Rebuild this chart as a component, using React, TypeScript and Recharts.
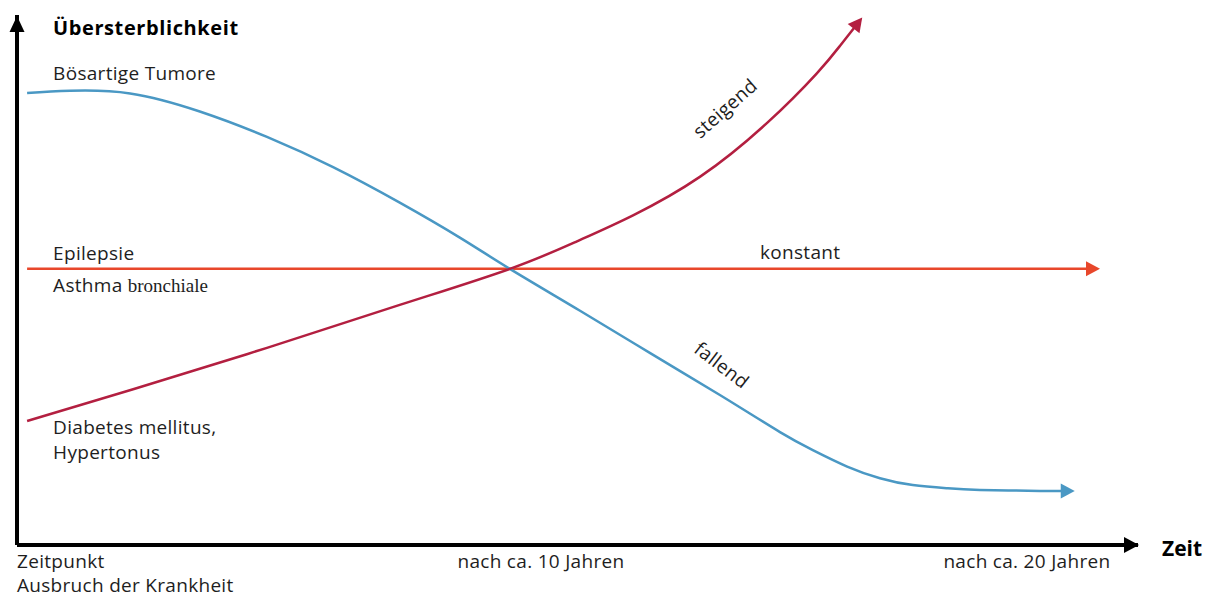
import React from "react";
import { LineChart, Line, XAxis, YAxis, ReferenceDot, Label } from "recharts";

const FONT = "'Open Sans', 'Noto Sans', sans-serif";
const SERIF = "'Liberation Serif', 'DejaVu Serif', serif";
const TEXT = "#1e1e1e";
const FONT_SIZE = 19;
const SPACING = 0.3;

// t = Jahre seit Ausbruch, v = Übersterblichkeit (relative Skala 0..100)
const fallend = [
  { t: 0.2, v: 85.3 },
  { t: 1.05, v: 85.7 },
  { t: 2.24, v: 85.2 },
  { t: 3.62, v: 81.8 },
  { t: 4.95, v: 77.0 },
  { t: 6.26, v: 71.3 },
  { t: 7.58, v: 64.6 },
  { t: 8.77, v: 58.0 },
  { t: 9.76, v: 52.1 },
  { t: 11.15, v: 44.2 },
  { t: 12.54, v: 36.2 },
  { t: 13.92, v: 28.3 },
  { t: 15.11, v: 21.3 },
  { t: 15.76, v: 17.9 },
  { t: 16.44, v: 14.8 },
  { t: 17.09, v: 12.6 },
  { t: 17.74, v: 11.3 },
  { t: 18.42, v: 10.7 },
  { t: 19.07, v: 10.4 },
  { t: 20.26, v: 10.2 },
  { t: 20.69, v: 10.2 },
];

const steigend = [
  { t: 0.2, v: 23.4 },
  { t: 2.3, v: 29.4 },
  { t: 4.95, v: 37.2 },
  { t: 7.58, v: 45.3 },
  { t: 9.76, v: 52.1 },
  { t: 11.09, v: 57.3 },
  { t: 12.2, v: 62.2 },
  { t: 13.53, v: 69.5 },
  { t: 14.85, v: 79.6 },
  { t: 15.84, v: 89.0 },
  { t: 16.3, v: 94.2 },
  { t: 16.58, v: 97.6 },
];

const konstant = [
  { t: 0.2, v: 52.1 },
  { t: 15.51, v: 52.1 },
  { t: 21.19, v: 52.1 },
];

const TIME_DOMAIN = [0, 22.2];
const RATE_DOMAIN = [0, 100];
const TIME_TICKS = [0, 10, 20];
const TIME_TICK_LABELS: Record<number, string[]> = {
  0: ["Zeitpunkt", "Ausbruch der Krankheit"],
  10: ["nach ca. 10 Jahren"],
  20: ["nach ca. 20 Jahren"],
};

const COLORS = {
  fallend: "#4a98c4",
  steigend: "#b31f40",
  konstant: "#e8472b",
};

type Note = {
  index: number;
  lines: React.ReactNode[];
  dx: number;
  dy: number;
  angle?: number;
  anchor?: "start" | "middle";
  lineGap?: number;
};

const fallendNotes: Note[] = [
  { index: 0, lines: ["Bösartige Tumore"], dx: 26, dy: -13 },
  { index: 11, lines: ["fallend"], dx: 2, dy: -30, angle: 37.5, anchor: "middle" },
];

const steigendNotes: Note[] = [
  { index: 0, lines: ["Diabetes mellitus,", "Hypertonus"], dx: 26, dy: 13, lineGap: 25 },
  { index: 8, lines: ["steigend"], dx: -42, dy: -15, angle: -41.5, anchor: "middle" },
];

const konstantNotes: Note[] = [
  { index: 0, lines: ["Epilepsie"], dx: 26, dy: -9 },
  {
    index: 0,
    lines: [
      <>
        Asthma <tspan fontFamily={SERIF} letterSpacing={0}>bronchiale</tspan>
      </>,
    ],
    dx: 26,
    dy: 23,
  },
  { index: 1, lines: ["konstant"], dx: 0, dy: -10, anchor: "middle" },
];

function makeDot(color: string, count: number, notes: Note[], fallbackAngle: number) {
  return (props: any) => {
    const { cx, cy, index, points } = props;
    const key = `dot-${index}`;
    if (cx == null || cy == null) return <g key={key} />;
    const parts: React.ReactNode[] = [];

    if (index === count - 1) {
      let angle = fallbackAngle;
      if (points && points.length > 1 && index > 0) {
        const a = points[index - 1];
        const b = points[index];
        angle = (Math.atan2(b.y - a.y, b.x - a.x) * 180) / Math.PI;
      }
      parts.push(
        <polygon
          key="head"
          points="-1,-7.5 13,0 -1,7.5"
          fill={color}
          transform={`translate(${cx},${cy}) rotate(${angle})`}
        />
      );
    }

    notes
      .filter((n) => n.index === index)
      .forEach((n, i) => {
        const x = cx + n.dx;
        const y = cy + n.dy;
        parts.push(
          <text
            key={`note-${i}`}
            x={x}
            y={y}
            textAnchor={n.anchor ?? "start"}
            dominantBaseline={n.angle != null ? "central" : "alphabetic"}
            transform={n.angle != null ? `rotate(${n.angle},${x},${y})` : undefined}
            fontFamily={FONT}
            fontSize={FONT_SIZE}
            letterSpacing={SPACING}
            fill={TEXT}
          >
            {n.lines.map((line, j) => (
              <tspan key={j} x={x} dy={j === 0 ? 0 : n.lineGap ?? 25}>
                {line}
              </tspan>
            ))}
          </text>
        );
      });

    return <g key={key}>{parts}</g>;
  };
}

function TimeTick(props: any) {
  const { x, y, payload } = props;
  const value = payload.value;
  const lines = TIME_TICK_LABELS[value] ?? [];
  const anchor = value === 0 ? "start" : "middle";
  const shift = value === 10 ? 19 : 0;
  return (
    <text
      x={x + shift}
      y={y}
      textAnchor={anchor}
      fontFamily={FONT}
      fontSize={FONT_SIZE}
      letterSpacing={SPACING}
      fill={TEXT}
    >
      {lines.map((l, i) => (
        <tspan key={i} x={x + shift} dy={i === 0 ? 23 : 24}>
          {l}
        </tspan>
      ))}
    </text>
  );
}

function TitleLabel(props: any) {
  const vb = props.viewBox ?? { x: 16, y: 15 };
  return (
    <text
      x={vb.x + 37}
      y={vb.y + 20}
      fontFamily={FONT}
      fontSize={20}
      fontWeight={700}
      letterSpacing={0.6}
      fill="#000"
    >
      Übersterblichkeit
    </text>
  );
}

function TimeLabel(props: any) {
  const vb = props.viewBox ?? { x: 17, y: 545, width: 1121 };
  return (
    <text
      x={vb.x + vb.width + 24}
      y={vb.y + 11}
      fontFamily={FONT}
      fontSize={21}
      fontWeight={700}
      fill="#000"
    >
      Zeit
    </text>
  );
}

const rightArrow = (p: any) => (
  <polygon points={`${p.cx - 14},${p.cy - 8} ${p.cx + 1},${p.cy} ${p.cx - 14},${p.cy + 8}`} fill="#000" />
);
const upArrow = (p: any) => (
  <polygon points={`${p.cx - 7.5},${p.cy + 17} ${p.cx},${p.cy + 1} ${p.cx + 7.5},${p.cy + 17}`} fill="#000" />
);

export default function App() {
  return (
    <div style={{ position: "absolute", left: 0, top: 0, background: "#fff" }}>
      <LineChart width={1213} height={597} margin={{ top: 15, right: 75, bottom: 0, left: 16 }}>
        <XAxis
          type="number"
          dataKey="t"
          domain={TIME_DOMAIN}
          ticks={TIME_TICKS}
          interval={0}
          tick={<TimeTick />}
          tickLine={false}
          tickSize={0}
          tickMargin={0}
          axisLine={{ stroke: "#000", strokeWidth: 4 }}
          height={52}
          label={<Label content={<TimeLabel />} />}
        />
        <YAxis
          type="number"
          domain={RATE_DOMAIN}
          width={1}
          tick={false}
          tickLine={false}
          axisLine={{ stroke: "#000", strokeWidth: 4 }}
          label={<Label content={<TitleLabel />} />}
        />
        <ReferenceDot x={TIME_DOMAIN[1]} y={0} r={0} shape={rightArrow} ifOverflow="visible" />
        <ReferenceDot x={0} y={RATE_DOMAIN[1]} r={0} shape={upArrow} ifOverflow="visible" />
        <Line
          data={konstant}
          dataKey="v"
          type="linear"
          stroke={COLORS.konstant}
          strokeWidth={2.5}
          dot={makeDot(COLORS.konstant, konstant.length, konstantNotes, 0)}
          activeDot={false}
          isAnimationActive={false}
        />
        <Line
          data={fallend}
          dataKey="v"
          type="natural"
          stroke={COLORS.fallend}
          strokeWidth={2.5}
          dot={makeDot(COLORS.fallend, fallend.length, fallendNotes, 0)}
          activeDot={false}
          isAnimationActive={false}
        />
        <Line
          data={steigend}
          dataKey="v"
          type="natural"
          stroke={COLORS.steigend}
          strokeWidth={2.5}
          dot={makeDot(COLORS.steigend, steigend.length, steigendNotes, -52)}
          activeDot={false}
          isAnimationActive={false}
        />
      </LineChart>
    </div>
  );
}
